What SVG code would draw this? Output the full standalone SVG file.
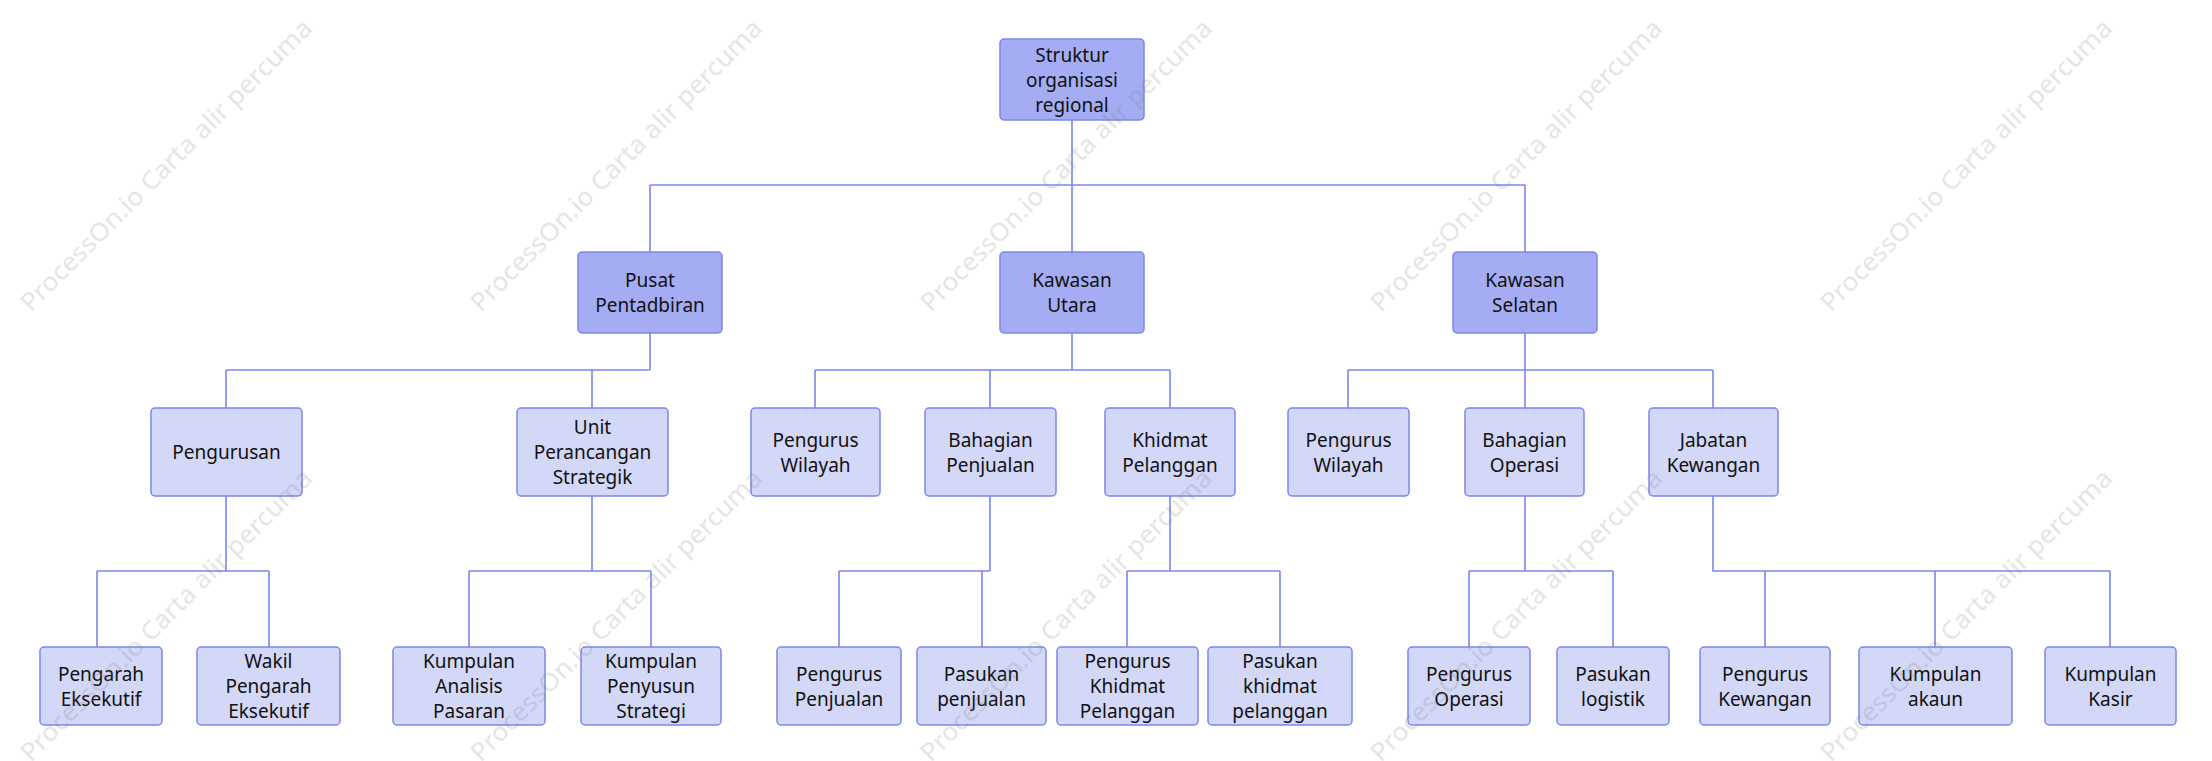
<svg xmlns="http://www.w3.org/2000/svg" width="2212" height="761" viewBox="0 0 2212 761">
<style>
.n rect{stroke:#7c86ee;stroke-width:1.5}
.d rect{fill:#a4adf3}
.l rect{fill:#d3d7f8}
.n text{font-family:"Noto Sans","Open Sans",sans-serif;font-size:19px;fill:#111;text-anchor:middle}
#connectors path{fill:none;stroke:#7c86ee;stroke-width:1.6}
.wm{font-family:"Noto Sans","Open Sans",sans-serif;font-size:26px;fill:#808080;opacity:0.22}
</style>
<rect width="2212" height="761" fill="#fff"/>
<g id="connectors">
<path d="M1072 120V185M650 185H1525M650 185V252M1072 185V252M1525 185V252"/>
<path d="M650 333V370M226 370H650M226 370V408M592 370V408"/>
<path d="M1072 333V370M815 370H1170M815 370V408M990 370V408M1170 370V408"/>
<path d="M1525 333V370M1348 370H1713M1348 370V408M1525 370V408M1713 370V408"/>
<path d="M226 496V571M97 571H269M97 571V647M269 571V647"/>
<path d="M592 496V571M469 571H651M469 571V647M651 571V647"/>
<path d="M990 496V571M839 571H990M839 571V647M982 571V647"/>
<path d="M1170 496V571M1127 571H1280M1127 571V647M1280 571V647"/>
<path d="M1525 496V571M1469 571H1613M1469 571V647M1613 571V647"/>
<path d="M1713 496V571H2110M1765 571V647M1935 571V647M2110 571V647"/>
</g>
<g id="root" class="n d"><rect x="1000" y="39" width="144" height="81" rx="4"/><text x="1072" y="61.5">Struktur</text><text x="1072" y="86.5">organisasi</text><text x="1072" y="111.5">regional</text></g>
<g id="pusat" class="n d"><rect x="578" y="252" width="144" height="81" rx="4"/><text x="650" y="287">Pusat</text><text x="650" y="312">Pentadbiran</text></g>
<g id="utara" class="n d"><rect x="1000" y="252" width="144" height="81" rx="4"/><text x="1072" y="287">Kawasan</text><text x="1072" y="312">Utara</text></g>
<g id="selatan" class="n d"><rect x="1453" y="252" width="144" height="81" rx="4"/><text x="1525" y="287">Kawasan</text><text x="1525" y="312">Selatan</text></g>
<g id="pengurusan" class="n l"><rect x="151" y="408" width="151" height="88" rx="4"/><text x="226.5" y="459">Pengurusan</text></g>
<g id="unit" class="n l"><rect x="517" y="408" width="151" height="88" rx="4"/><text x="592.5" y="434">Unit</text><text x="592.5" y="459">Perancangan</text><text x="592.5" y="484">Strategik</text></g>
<g id="wilayahU" class="n l"><rect x="751" y="408" width="129" height="88" rx="4"/><text x="815.5" y="446.5">Pengurus</text><text x="815.5" y="471.5">Wilayah</text></g>
<g id="penjualan" class="n l"><rect x="925" y="408" width="131" height="88" rx="4"/><text x="990.5" y="446.5">Bahagian</text><text x="990.5" y="471.5">Penjualan</text></g>
<g id="khidmat" class="n l"><rect x="1105" y="408" width="130" height="88" rx="4"/><text x="1170" y="446.5">Khidmat</text><text x="1170" y="471.5">Pelanggan</text></g>
<g id="wilayahS" class="n l"><rect x="1288" y="408" width="121" height="88" rx="4"/><text x="1348.5" y="446.5">Pengurus</text><text x="1348.5" y="471.5">Wilayah</text></g>
<g id="operasi" class="n l"><rect x="1465" y="408" width="119" height="88" rx="4"/><text x="1524.5" y="446.5">Bahagian</text><text x="1524.5" y="471.5">Operasi</text></g>
<g id="kewangan" class="n l"><rect x="1649" y="408" width="129" height="88" rx="4"/><text x="1713.5" y="446.5">Jabatan</text><text x="1713.5" y="471.5">Kewangan</text></g>
<g id="pengarah" class="n l"><rect x="40" y="647" width="122" height="78" rx="4"/><text x="101" y="680.5">Pengarah</text><text x="101" y="705.5">Eksekutif</text></g>
<g id="wakil" class="n l"><rect x="197" y="647" width="143" height="78" rx="4"/><text x="268.5" y="668">Wakil</text><text x="268.5" y="693">Pengarah</text><text x="268.5" y="718">Eksekutif</text></g>
<g id="analisis" class="n l"><rect x="393" y="647" width="152" height="78" rx="4"/><text x="469" y="668">Kumpulan</text><text x="469" y="693">Analisis</text><text x="469" y="718">Pasaran</text></g>
<g id="penyusun" class="n l"><rect x="581" y="647" width="140" height="78" rx="4"/><text x="651" y="668">Kumpulan</text><text x="651" y="693">Penyusun</text><text x="651" y="718">Strategi</text></g>
<g id="pengPenjualan" class="n l"><rect x="777" y="647" width="124" height="78" rx="4"/><text x="839" y="680.5">Pengurus</text><text x="839" y="705.5">Penjualan</text></g>
<g id="pasPenjualan" class="n l"><rect x="917" y="647" width="129" height="78" rx="4"/><text x="981.5" y="680.5">Pasukan</text><text x="981.5" y="705.5">penjualan</text></g>
<g id="pengKhidmat" class="n l"><rect x="1057" y="647" width="141" height="78" rx="4"/><text x="1127.5" y="668">Pengurus</text><text x="1127.5" y="693">Khidmat</text><text x="1127.5" y="718">Pelanggan</text></g>
<g id="pasKhidmat" class="n l"><rect x="1208" y="647" width="144" height="78" rx="4"/><text x="1280" y="668">Pasukan</text><text x="1280" y="693">khidmat</text><text x="1280" y="718">pelanggan</text></g>
<g id="pengOperasi" class="n l"><rect x="1408" y="647" width="122" height="78" rx="4"/><text x="1469" y="680.5">Pengurus</text><text x="1469" y="705.5">Operasi</text></g>
<g id="logistik" class="n l"><rect x="1557" y="647" width="112" height="78" rx="4"/><text x="1613" y="680.5">Pasukan</text><text x="1613" y="705.5">logistik</text></g>
<g id="pengKewangan" class="n l"><rect x="1700" y="647" width="130" height="78" rx="4"/><text x="1765" y="680.5">Pengurus</text><text x="1765" y="705.5">Kewangan</text></g>
<g id="akaun" class="n l"><rect x="1859" y="647" width="153" height="78" rx="4"/><text x="1935.5" y="680.5">Kumpulan</text><text x="1935.5" y="705.5">akaun</text></g>
<g id="kasir" class="n l"><rect x="2045" y="647" width="131" height="78" rx="4"/><text x="2110.5" y="680.5">Kumpulan</text><text x="2110.5" y="705.5">Kasir</text></g>
<g id="watermark" class="wm">
<text transform="translate(31 313) rotate(-45)" textLength="400" lengthAdjust="spacingAndGlyphs">ProcessOn.io Carta alir percuma</text>
<text transform="translate(481 313) rotate(-45)" textLength="400" lengthAdjust="spacingAndGlyphs">ProcessOn.io Carta alir percuma</text>
<text transform="translate(931 313) rotate(-45)" textLength="400" lengthAdjust="spacingAndGlyphs">ProcessOn.io Carta alir percuma</text>
<text transform="translate(1381 313) rotate(-45)" textLength="400" lengthAdjust="spacingAndGlyphs">ProcessOn.io Carta alir percuma</text>
<text transform="translate(1831 313) rotate(-45)" textLength="400" lengthAdjust="spacingAndGlyphs">ProcessOn.io Carta alir percuma</text>
<text transform="translate(31 763) rotate(-45)" textLength="400" lengthAdjust="spacingAndGlyphs">ProcessOn.io Carta alir percuma</text>
<text transform="translate(481 763) rotate(-45)" textLength="400" lengthAdjust="spacingAndGlyphs">ProcessOn.io Carta alir percuma</text>
<text transform="translate(931 763) rotate(-45)" textLength="400" lengthAdjust="spacingAndGlyphs">ProcessOn.io Carta alir percuma</text>
<text transform="translate(1381 763) rotate(-45)" textLength="400" lengthAdjust="spacingAndGlyphs">ProcessOn.io Carta alir percuma</text>
<text transform="translate(1831 763) rotate(-45)" textLength="400" lengthAdjust="spacingAndGlyphs">ProcessOn.io Carta alir percuma</text>
</g>
</svg>
